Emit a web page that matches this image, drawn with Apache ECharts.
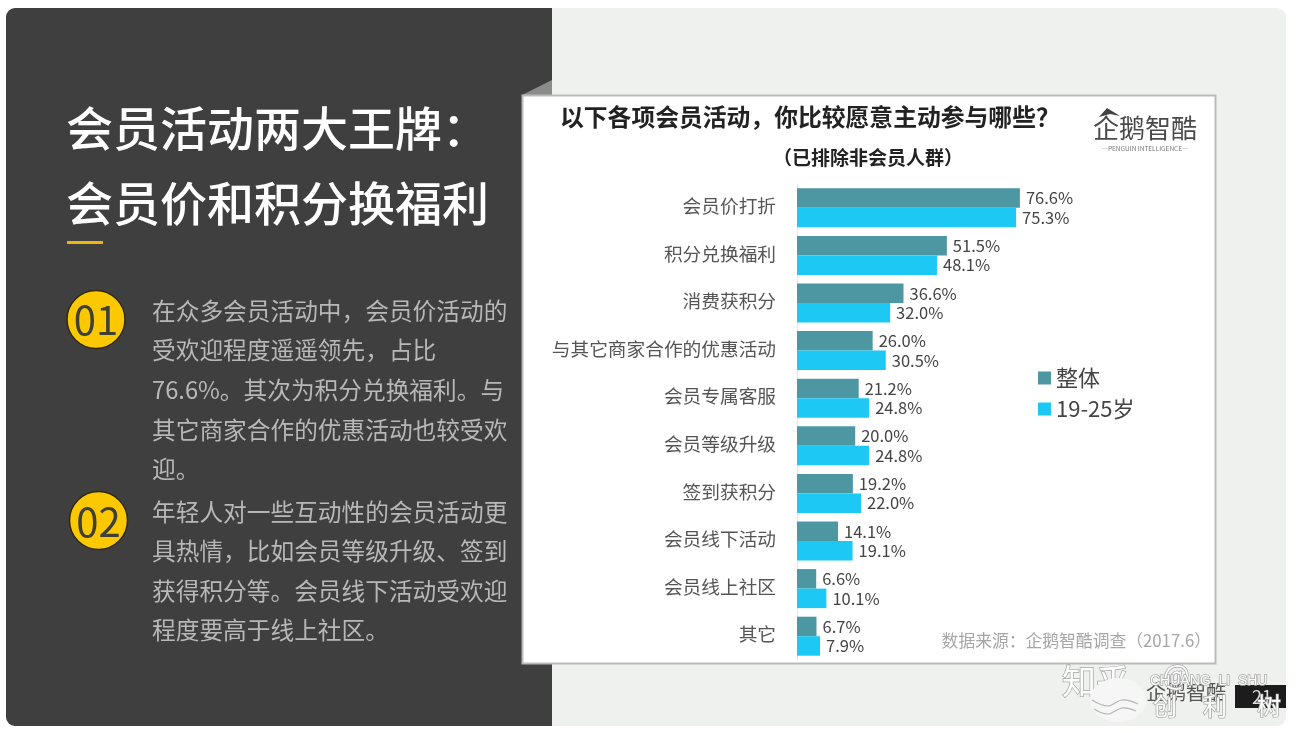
<!DOCTYPE html>
<html lang="zh">
<head>
	<meta charset="UTF-8">
	<title>会员活动两大王牌</title>
	<style>
		*{
			margin: 0;
			padding: 0;
		}
		html,body{
			background: #fff;
			overflow: hidden;
		}
		.box{
			width: 1296px;
			height: 733px;
			filter: blur(0.4px);
		}
	</style>
	<script src="https://cdn.jsdelivr.net/npm/echarts@6/dist/echarts.min.js"></script>
</head>
<body>
	<div class="box"></div>
	<script>
		var categories = ['会员价打折','积分兑换福利','消费获积分','与其它商家合作的优惠活动','会员专属客服','会员等级升级','签到获积分','会员线下活动','会员线上社区','其它'];
		var overall = [76.6,51.5,36.6,26.0,21.2,20.0,19.2,14.1,6.6,6.7];
		var young = [75.3,48.1,32.0,30.5,24.8,24.8,22.0,19.1,10.1,7.9];
		var seriesNames = ['整体','19-25岁'];
		var headLines = ['会员活动两大王牌：','会员价和积分换福利'];
		var para1 = ['在众多会员活动中，会员价活动的','受欢迎程度遥遥领先，占比','76.6%。其次为积分兑换福利。与','其它商家合作的优惠活动也较受欢','迎。'];
		var para2 = ['年轻人对一些互动性的会员活动更','具热情，比如会员等级升级、签到','获得积分等。会员线下活动受欢迎','程度要高于线上社区。'];

		var cjk = '"Noto Sans CJK SC", "Noto Sans", sans-serif';
		var cjkTc = '"Noto Sans CJK TC", "Noto Sans", sans-serif';
		var chart = echarts.init(document.querySelector('.box'), null, {renderer: 'canvas'});

		function txt(x, y, text, size, color, weight, align, family) {
			return {
				type: 'text', x: x, y: y, z: 1,
				style: {
					text: text, fill: color, align: align || 'left', verticalAlign: 'middle',
					font: (weight || 'normal') + ' ' + size + 'px ' + (family || cjk)
				}
			};
		}
		function rect(x, y, w, h, fill, r, extra) {
			return {
				type: 'rect', z: 0,
				shape: {x: x, y: y, width: w, height: h, r: r || 0},
				style: Object.assign({fill: fill}, extra || {})
			};
		}
		function wave(points) {
			return {type: 'polyline', z: 3, shape: {points: points, smooth: 0.4}, style: {fill: null, stroke: '#b5b5b5', lineWidth: 1.2}};
		}
		// watermark text: white with a grey outline
		function stamp(el) {
			el.z = 2;
			el.style.stroke = '#a8a8a8';
			el.style.lineWidth = 1.5;
			el.style.strokeFirst = true;
			return el;
		}

		var gfx = [
			rect(552, 8, 734, 718, '#eff1ee', [0, 9, 9, 0]),
			rect(6, 8, 546, 718, '#3f3f3f', [9, 0, 0, 9]),
			{type: 'polygon', z: 0, shape: {points: [[522, 95], [552, 80], [552, 95]]}, style: {fill: '#8c8c8c'}},
			rect(522.5, 95.5, 693, 568, '#ffffff', 0, {stroke: '#b9bbb9', lineWidth: 2}),
			rect(67, 241, 36, 3, '#e8b90c'),
			{type: 'circle', z: 0, shape: {cx: 96, cy: 319.5, r: 29}, style: {fill: '#fcc800', stroke: '#2f2a10', lineWidth: 1.5}},
			{type: 'circle', z: 0, shape: {cx: 98.5, cy: 520.5, r: 29}, style: {fill: '#fcc800', stroke: '#2f2a10', lineWidth: 1.5}},
			txt(96, 320, '01', 40, '#3f3f33', 'normal', 'center'),
			txt(98.5, 522, '02', 40, '#3f3f33', 'normal', 'center'),
			txt(560, 117, '以下各项会员活动，你比较愿意主动参与哪些？', 23.8, '#222', 'bold', 'left', cjkTc),
			txt(868, 158, '（已排除非会员人群）', 19, '#222', 'bold', 'center', cjkTc),
			{type: 'polygon', z: 1, shape: {points: [[1099, 117], [1107, 108], [1120, 116], [1110, 114]]}, style: {fill: '#444'}},
			txt(1093, 128, '企鹅智酷', 26, '#4a4a4a'),
			txt(1145, 149, '—PENGUIN INTELLIGENCE—', 6.5, '#777', 'normal', 'center'),
			txt(1211, 641, '数据来源：企鹅智酷调查（2017.6）', 16.8, '#a6a6a6', 'normal', 'right', cjkTc),
			rect(1235, 685, 51, 23, '#1c1c1c'),
			txt(1262, 697, '21', 18, '#ddd', 'normal', 'center'),
			txt(1146, 692, '企鹅智酷', 20, '#555'),
			stamp(txt(1062, 681, '知乎', 34, '#ffffff')),
			stamp(txt(1163, 674, '@', 28, '#ffffff')),
			stamp(txt(1150, 681, 'CHUANG  LI  SHU', 14, '#ffffff', 'normal', 'left', 'Liberation Sans')),
			{type: 'ellipse', z: 2, shape: {cx: 1118, cy: 700, rx: 28, ry: 22}, style: {fill: '#f6f6f6'}},
			wave([[1092, 700], [1108, 706], [1122, 700], [1138, 704]]),
			wave([[1094, 709], [1108, 714], [1122, 708], [1136, 711]]),
			stamp(txt(1153, 706, '创', 24, '#ffffff')),
			stamp(txt(1203, 706, '利', 24, '#ffffff')),
			stamp(txt(1257, 706, '树', 24, '#ffffff'))
		];
		var headY = [128, 203];
		headLines.forEach(function (line, i) {
			gfx.push(txt(66, headY[i], line, 47, '#ffffff', '500'));
		});
		var y1 = [311, 350, 390, 430, 469];
		para1.forEach(function (line, i) {
			gfx.push(txt(152, y1[i], line, 23.7, '#b8b8b8'));
		});
		var y2 = [512, 551, 591, 630];
		para2.forEach(function (line, i) {
			gfx.push(txt(152, y2[i], line, 23.7, '#b8b8b8'));
		});

		var barLabel = {
			show: true,
			position: 'right',
			distance: 6,
			color: '#444',
			fontSize: 16.5,
			fontFamily: cjk,
			formatter: function (p) {
				return p.value.toFixed(1) + '%';
			}
		};

		var option = {
			animation: false,
			backgroundColor: '#ffffff',
			graphic: {elements: gfx},
			legend: {
				data: seriesNames,
				orient: 'vertical',
				left: 1033,
				top: 362,
				itemWidth: 13,
				itemHeight: 13,
				itemGap: 9,
				icon: 'rect',
				textStyle: {color: '#444', fontSize: 22, fontFamily: cjk},
				z: 5
			},
			grid: {left: 797, top: 184, width: 291, height: 476},
			xAxis: {type: 'value', min: 0, max: 100, show: false},
			yAxis: {
				type: 'category',
				data: categories,
				inverse: true,
				axisLine: {show: true, lineStyle: {color: '#d5eef5', width: 1}},
				axisTick: {show: false},
				axisLabel: {
					margin: 21,
					formatter: '{a|{value}}',
					rich: {a: {color: '#555', fontSize: 18.7, padding: [0, 0, 4, 0], fontFamily: cjk}}
				}
			},
			series: [
				{name: seriesNames[0], type: 'bar', data: overall, barWidth: 19.5, barGap: 0, itemStyle: {color: '#4c97a2'}, label: barLabel},
				{name: seriesNames[1], type: 'bar', data: young, barWidth: 19.5, barGap: 0, itemStyle: {color: '#1ec8f5'}, label: barLabel}
			]
		};
		chart.setOption(option);
	</script>
</body>
</html>
